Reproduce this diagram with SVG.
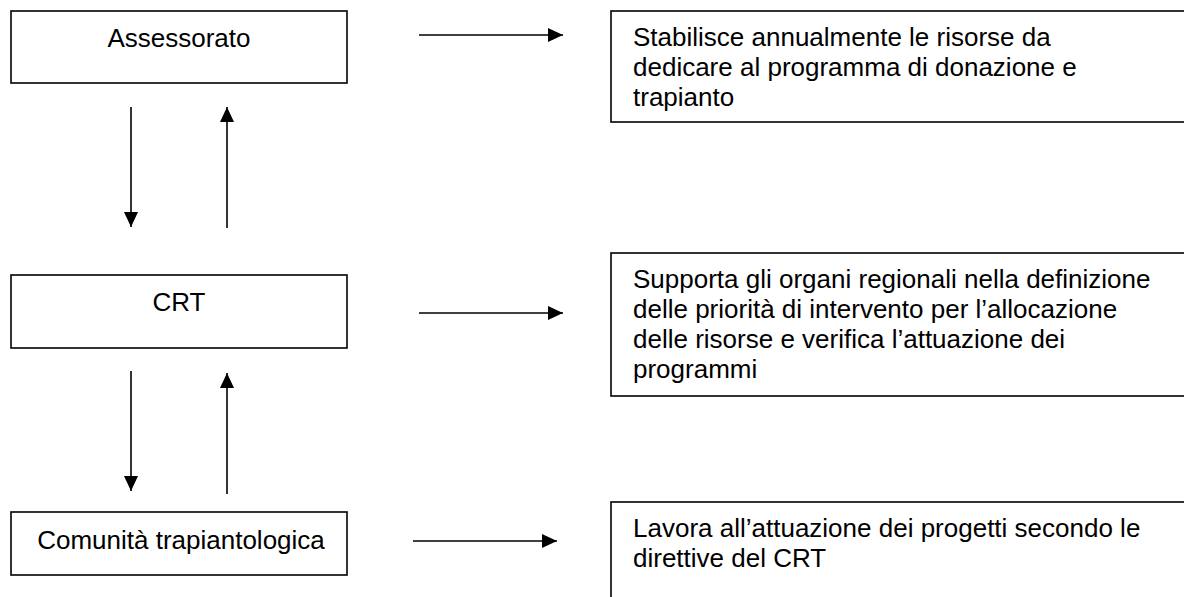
<svg xmlns="http://www.w3.org/2000/svg" width="1184" height="597" viewBox="0 0 1184 597">
<style>
.box{fill:#fff;stroke:#000;stroke-width:1.6}
.t{font-family:"Liberation Sans",Arial,sans-serif;font-size:26px;fill:#000}
.c{text-anchor:middle}
.ln{stroke:#000;stroke-width:1.6;fill:none;marker-end:url(#ah)}
</style>
<defs>
<marker id="ah" markerUnits="userSpaceOnUse" markerWidth="16" markerHeight="15" refX="15" refY="7" orient="auto">
<path d="M0,0 L15,7 L0,14 z" fill="#000"/>
</marker>
</defs>
<rect width="1184" height="597" fill="#fff"/>
<g id="assessorato">
<rect class="box" x="11" y="11" width="336" height="72"/>
<text class="t c" x="179" y="47">Assessorato</text>
</g>
<g id="crt">
<rect class="box" x="11" y="275" width="336" height="73"/>
<text class="t c" x="179" y="311">CRT</text>
</g>
<g id="comunita">
<rect class="box" x="11" y="512" width="336" height="63"/>
<text class="t c" x="181" y="549">Comunità trapiantologica</text>
</g>
<g id="desc1">
<rect class="box" x="611" y="11" width="600" height="111"/>
<text class="t" x="633" y="46">Stabilisce annualmente le risorse da</text>
<text class="t" x="633" y="76">dedicare al programma di donazione e</text>
<text class="t" x="633" y="106">trapianto</text>
</g>
<g id="desc2">
<rect class="box" x="611" y="253" width="600" height="143"/>
<text class="t" x="633" y="288">Supporta gli organi regionali nella definizione</text>
<text class="t" x="633" y="318">delle priorità di intervento per l’allocazione</text>
<text class="t" x="633" y="348">delle risorse e verifica l’attuazione dei</text>
<text class="t" x="633" y="378">programmi</text>
</g>
<g id="desc3">
<rect class="box" x="611" y="502" width="600" height="140"/>
<text class="t" x="633" y="537">Lavora all’attuazione dei progetti secondo le</text>
<text class="t" x="633" y="567">direttive del CRT</text>
</g>
<g id="connectors">
<line class="ln" x1="419" y1="35" x2="563" y2="35"/>
<line class="ln" x1="419" y1="313" x2="563" y2="313"/>
<line class="ln" x1="413" y1="541" x2="557" y2="541"/>
<line class="ln" x1="131" y1="107" x2="131" y2="227"/>
<line class="ln" x1="227" y1="228" x2="227" y2="107"/>
<line class="ln" x1="131" y1="371" x2="131" y2="491"/>
<line class="ln" x1="227" y1="494" x2="227" y2="373"/>
</g>
</svg>
